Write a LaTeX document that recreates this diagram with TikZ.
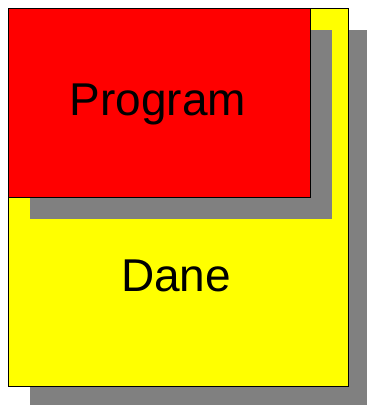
\documentclass[tikz,border=0pt]{standalone}
\usepackage{fontspec}
\setmainfont{Liberation Sans}
\definecolor{puryellow}{RGB}{255,255,0}
\definecolor{purred}{RGB}{255,0,0}
\definecolor{shadowgray}{RGB}{128,128,128}
\begin{document}
\begin{tikzpicture}[x=1pt,y=-1pt,
  shadowbox/.style={fill=shadowgray},
  boxstyle/.style={draw=black, line width=1pt},
  lbl/.style={font=\fontsize{46}{54}\selectfont, text=black, anchor=base, inner sep=0pt}]
\useasboundingbox (0,0) rectangle (367,405);
\clip (0,0) rectangle (367,405);
\fill[shadowbox] (30,30) rectangle (370,408);
\path[boxstyle, fill=puryellow] (8,8) rectangle (348,386);
\fill[shadowbox] (30,30) rectangle (332,219);
\path[boxstyle, fill=purred] (8,8) rectangle (310,197);
\node[lbl] (prog) at (158,115.5) {Program};
\node[lbl] (dane) at (176,291.5) {Dane};
\end{tikzpicture}
\end{document}
